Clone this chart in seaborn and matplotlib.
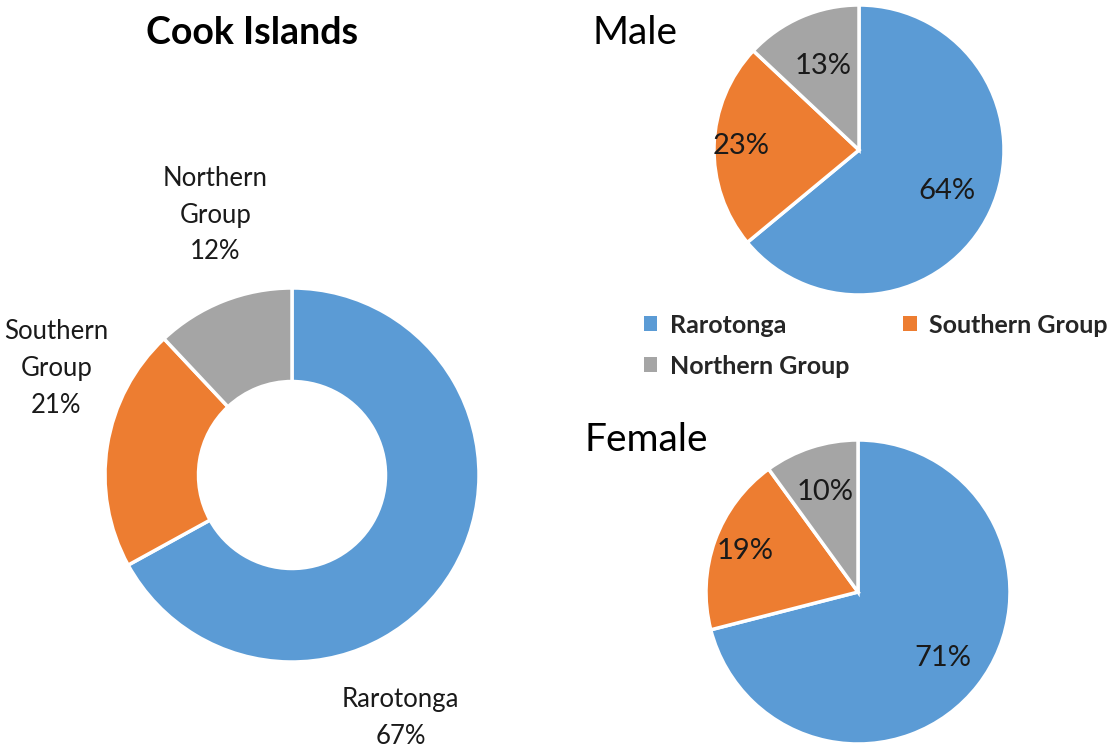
import numpy as np
import matplotlib
matplotlib.use("Agg")
import matplotlib.pyplot as plt
from matplotlib.patches import Patch
import seaborn as sns

# data
groups = ["Rarotonga", "Southern Group", "Northern Group"]
total_pct = [67, 21, 12]
male_pct = [64, 23, 13]
female_pct = [71, 19, 10]

sns.set_theme(style="white")
plt.rcParams['font.family'] = ['Lato', 'DejaVu Sans']
colors = sns.color_palette(["#5B9BD5", "#ED7D31", "#A5A5A5"])

W, H = 1111, 752
fig = plt.figure(figsize=(W / 100, H / 100), dpi=100)


def pie_axes(cx, cy, r):
    # square axes from pixel centre / radius
    return fig.add_axes([(cx - r) / W, (H - cy - r) / H, 2 * r / W, 2 * r / H])


def draw_pie(ax, vals, width=None):
    wp = dict(edgecolor="white", linewidth=2.5)
    if width is not None:
        wp["width"] = width
    wedges, _ = ax.pie(vals, colors=colors, startangle=90, counterclock=False,
                       wedgeprops=wp)
    ax.set_xlim(-1, 1)
    ax.set_ylim(-1, 1)
    return wedges


def pct_labels(ax, wedges, vals, dists):
    for w, v, d in zip(wedges, vals, dists):
        ang = np.deg2rad((w.theta1 + w.theta2) / 2)
        ax.text(d * np.cos(ang), d * np.sin(ang), f"{v}%", ha="center",
                va="center", fontsize=21, color="#1a1a1a")


# donut - whole country
ax0 = pie_axes(292, 475, 187)
draw_pie(ax0, total_pct, width=0.5)
donut_pos = [(0.58, -1.30), (-1.26, 0.57), (-0.41, 1.39)]
donut_txt = ["Rarotonga", "Southern\nGroup", "Northern\nGroup"]
for (x, y), name, v in zip(donut_pos, donut_txt, total_pct):
    ax0.text(x, y, f"{name}\n{v}%", ha="center", va="center", fontsize=18.5,
             color="#1a1a1a", linespacing=1.58)
fig.text(252 / W, 1 - 33 / H, "Cook Islands", ha="center", va="center",
         fontsize=27, fontweight="bold", color="black")

# male
ax1 = pie_axes(859, 150, 145)
w1 = draw_pie(ax1, male_pct)
pct_labels(ax1, w1, male_pct, [0.67, 0.81, 0.63])
fig.text(592 / W, 1 - 33 / H, "Male", ha="left", va="center", fontsize=28,
         color="black")

# female
ax2 = pie_axes(858, 592, 152)
w2 = draw_pie(ax2, female_pct)
pct_labels(ax2, w2, female_pct, [0.71, 0.79, 0.69])
fig.text(585 / W, 1 - 440 / H, "Female", ha="left", va="center", fontsize=28,
         color="black")

# legend filled row by row: Rarotonga, Southern / Northern
order = [0, 2, 1]
handles = [Patch(facecolor=colors[i], edgecolor="none") for i in order]
labels = [groups[i] for i in order]
leg = fig.legend(handles, labels, loc="upper left", ncol=2,
                 bbox_to_anchor=(621 / W, 1 - 291 / H), frameon=False,
                 handlelength=0.55, handleheight=0.55, handletextpad=0.5,
                 columnspacing=2.15, labelspacing=0.72,
                 prop=dict(family="Lato", weight="bold", size=18))

fig.savefig("out.png", dpi=100, facecolor="white")
